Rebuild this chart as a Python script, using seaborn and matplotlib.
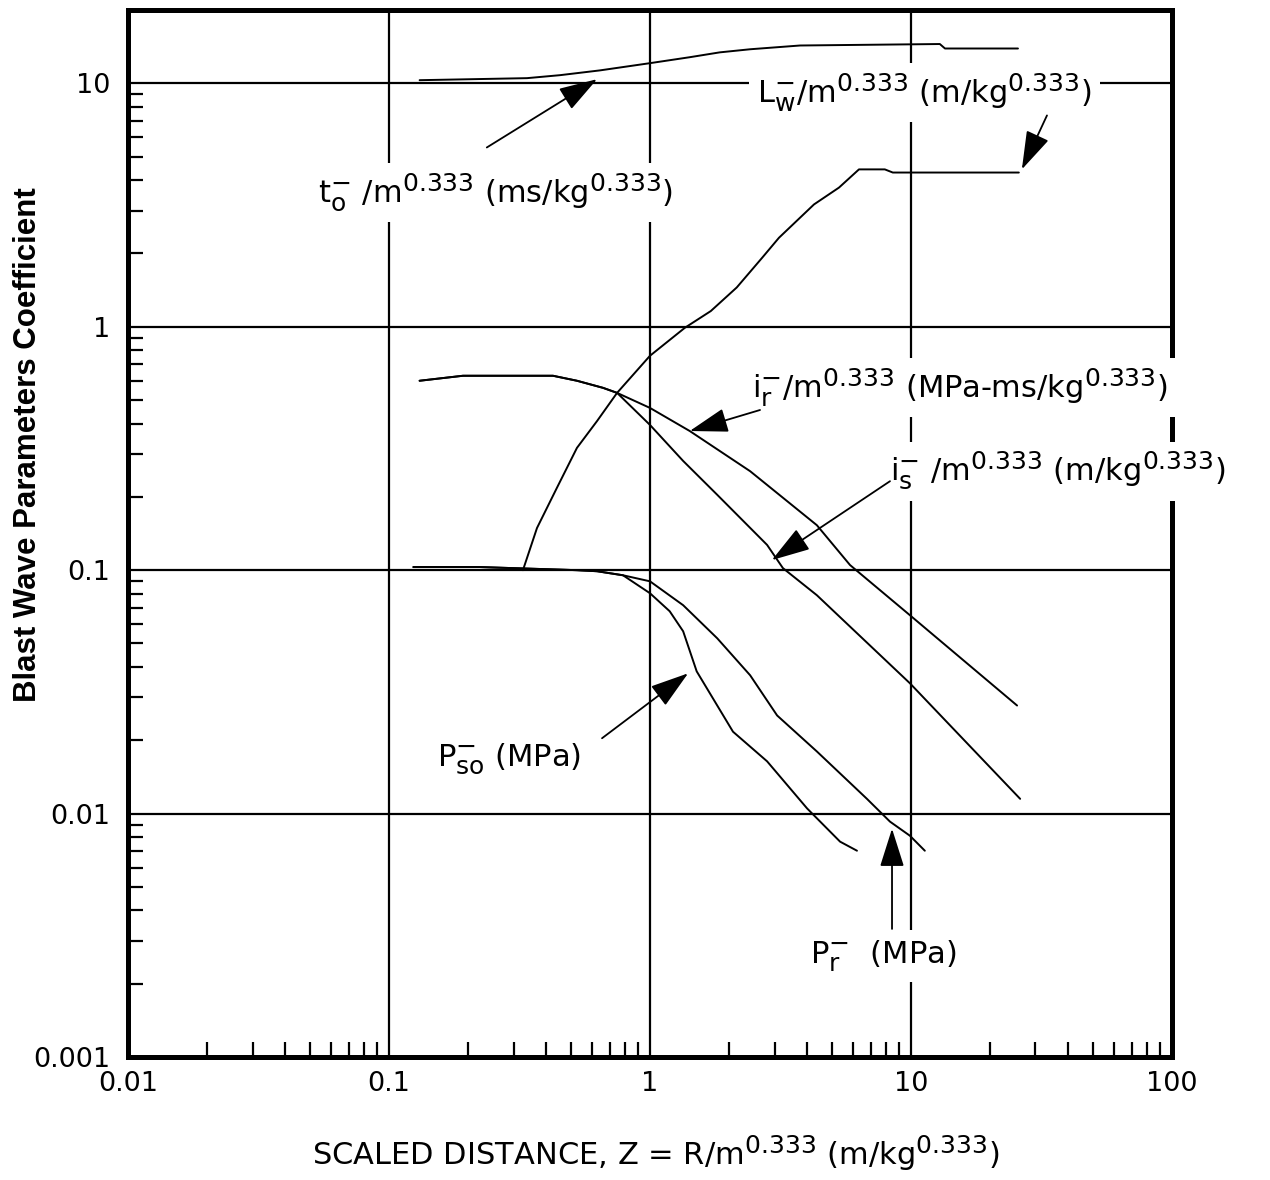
import numpy as np
import pandas as pd
import seaborn as sns
import matplotlib
matplotlib.use("Agg")
import matplotlib.pyplot as plt
import matplotlib._mathtext as _mathtext
from matplotlib.ticker import FixedLocator, FixedFormatter, LogLocator, NullFormatter

# Negative-phase blast wave parameters vs scaled distance Z (m/kg^0.333)
to_z = [0.131, 0.338, 0.452, 0.643, 1.0, 1.42, 1.85, 2.42, 3.76, 12.9, 13.5, 25.7]
to_v = [10.3, 10.5, 10.8, 11.3, 12.1, 12.8, 13.4, 13.8, 14.3, 14.5, 13.9, 13.9]

lw_z = [0.326, 0.369, 0.440, 0.525, 0.627, 0.748, 1.0, 1.36, 1.71, 2.15, 2.69, 3.12, 4.25, 5.30, 6.32, 7.94, 8.52, 25.9]
lw_v = [0.100, 0.149, 0.218, 0.318, 0.410, 0.535, 0.760, 0.99, 1.16, 1.45, 1.92, 2.32, 3.18, 3.73, 4.43, 4.43, 4.30, 4.30]

ir_z = [0.131, 0.192, 0.425, 0.525, 0.661, 0.748, 1.0, 1.42, 2.42, 4.36, 5.84, 9.91, 25.5]
ir_v = [0.600, 0.629, 0.629, 0.600, 0.561, 0.535, 0.464, 0.373, 0.255, 0.153, 0.105, 0.0653, 0.0278]

is_z = [0.131, 0.192, 0.425, 0.525, 0.661, 0.748, 1.0, 1.34, 1.81, 2.81, 3.23, 4.36, 9.91, 26.2]
is_v = [0.600, 0.629, 0.629, 0.600, 0.561, 0.535, 0.395, 0.281, 0.204, 0.127, 0.102, 0.0789, 0.0343, 0.0115]

pr_z = [0.124, 0.223, 0.525, 0.627, 0.788, 1.0, 1.34, 1.81, 2.42, 3.07, 4.36, 6.78, 8.31, 9.91, 11.3]
pr_v = [0.103, 0.103, 0.100, 0.099, 0.0953, 0.090, 0.0718, 0.0525, 0.0370, 0.0253, 0.0180, 0.0115, 0.00927, 0.00811, 0.00704]

pso_z = [0.124, 0.223, 0.525, 0.627, 0.788, 1.0, 1.19, 1.34, 1.51, 1.81, 2.08, 2.81, 4.0, 5.35, 6.21]
pso_v = [0.103, 0.103, 0.100, 0.099, 0.0953, 0.0804, 0.0678, 0.0561, 0.0384, 0.0278, 0.0217, 0.0164, 0.0105, 0.00767, 0.00704]

x_ticks = [0.01, 0.1, 1, 10, 100]
x_ticklabels = ["0.01", "0.1", "1", "10", "100"]
y_ticks = [0.001, 0.01, 0.1, 1, 10]
y_ticklabels = ["0.001", "0.01", "0.1", "1", "10"]

series = {
    "t_o": (to_z, to_v),
    "L_w": (lw_z, lw_v),
    "i_r": (ir_z, ir_v),
    "i_s": (is_z, is_v),
    "P_r": (pr_z, pr_v),
    "P_so": (pso_z, pso_v),
}
df = pd.concat(
    [pd.DataFrame({"z": z, "value": v, "param": name}) for name, (z, v) in series.items()],
    ignore_index=True,
)

sns.set_style("white")
plt.rcParams["font.family"] = ["DejaVu Sans"]
plt.rcParams["mathtext.default"] = "regular"
for key in ("text.color", "axes.labelcolor", "xtick.color", "ytick.color"):
    plt.rcParams[key] = "black"
# larger exponents / indices than the default 0.7 shrink
_mathtext.SHRINK_FACTOR = 0.82

fig = plt.figure(figsize=(12.7, 11.8), dpi=100)
ax = fig.add_axes([0.1008, 0.1042, 0.822, 0.8873])

ax.set_xscale("log")
ax.set_yscale("log")
ax.set_xlim(0.01, 100)
ax.set_ylim(0.001, 20)

# major grid at each decade
for xv in [0.1, 1, 10]:
    ax.axvline(xv, color="black", lw=1.6, zorder=1)
for yv in [0.01, 0.1, 1, 10]:
    ax.axhline(yv, color="black", lw=1.6, zorder=1)

sns.lineplot(data=df, x="z", y="value", units="param", estimator=None,
             sort=False, color="black", lw=1.4, ax=ax, zorder=2)

ax.set_xlabel("")
ax.set_ylabel("")

ax.xaxis.set_major_locator(FixedLocator(x_ticks))
ax.xaxis.set_major_formatter(FixedFormatter(x_ticklabels))
ax.yaxis.set_major_locator(FixedLocator(y_ticks))
ax.yaxis.set_major_formatter(FixedFormatter(y_ticklabels))
ax.xaxis.set_minor_locator(LogLocator(base=10, subs=np.arange(2, 10)))
ax.yaxis.set_minor_locator(LogLocator(base=10, subs=np.arange(2, 10)))
ax.xaxis.set_minor_formatter(NullFormatter())
ax.yaxis.set_minor_formatter(NullFormatter())
ax.tick_params(which="major", length=0, labelsize=19.5, labelcolor="black")
ax.tick_params(axis="y", which="major", pad=13)
ax.tick_params(axis="x", which="major", pad=10)
ax.tick_params(which="minor", direction="in", length=11, width=1.6, color="black",
               bottom=True, left=True, top=False, right=False)

for s in ax.spines.values():
    s.set_linewidth(3.6)
    s.set_color("black")

# curve labels
label_kw = dict(fontsize=22, ha="left", va="center", zorder=5, clip_on=False,
                color="black", bbox=dict(facecolor="white", edgecolor="none", pad=6))
ax.text(0.0534, 3.56, "t$^{-}_{o}$ /m$^{0.333}$ (ms/kg$^{0.333}$)", **label_kw)
ax.text(2.57, 9.18, "L$^{-}_{w}$/m$^{0.333}$ (m/kg$^{0.333}$)", **label_kw)
ax.text(2.46, 0.561, "i$^{-}_{r}$/m$^{0.333}$ (MPa-ms/kg$^{0.333}$)", **label_kw)
ax.text(8.31, 0.255, "i$^{-}_{s}$ /m$^{0.333}$ (m/kg$^{0.333}$)", **label_kw)
ax.text(0.153, 0.0168, "P$^{-}_{so}$ (MPa)", **label_kw)
ax.text(4.10, 0.0026, "P$^{-}_{r}$  (MPa)", **label_kw)

arrow_kw = dict(arrowstyle="-|>,head_length=1.2,head_width=0.38", color="black",
                lw=1.3, mutation_scale=20, shrinkA=0, shrinkB=0)
arrows = [
    ((0.237, 5.45), (0.627, 10.4)),
    ((33.2, 7.38), (26.6, 4.43)),
    ((2.64, 0.455), (1.42, 0.373)),
    ((8.31, 0.232), (2.93, 0.110)),
    ((0.655, 0.0204), (1.40, 0.0377)),
    ((8.46, 0.00336), (8.46, 0.00867)),
]
for tail, tip in arrows:
    ax.annotate("", xy=tip, xytext=tail, arrowprops=arrow_kw, zorder=6)

fig.text(0.022, 0.623, "Blast Wave Parameters Coefficient", rotation=90,
         ha="center", va="center", fontsize=22.5, fontweight="bold",
         family="Liberation Sans", color="black")
fig.text(0.516, 0.023, "SCALED DISTANCE, Z = R/m$^{0.333}$ (m/kg$^{0.333}$)",
         ha="center", va="center", fontsize=22, color="black")

fig.savefig("out.png", dpi=100, facecolor="white")
